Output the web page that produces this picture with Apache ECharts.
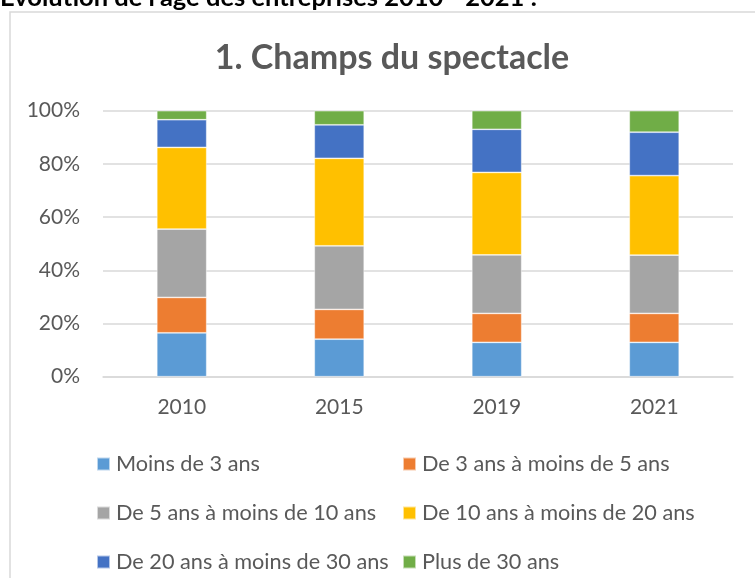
<!DOCTYPE html>
<html>
<head>
<meta charset="utf-8">
<script src="https://cdn.jsdelivr.net/npm/echarts@6/dist/echarts.min.js"></script>
<style>
html,body{margin:0;padding:0;background:#fff;}
#chart{width:755px;height:578px;}
</style>
</head>
<body>
<div id="chart"></div>
<script>
const categories = ['2010', '2015', '2019', '2021'];
const seriesNames = ['Moins de 3 ans', 'De 3 ans à moins de 5 ans', 'De 5 ans à moins de 10 ans', 'De 10 ans à moins de 20 ans', 'De 20 ans à moins de 30 ans', 'Plus de 30 ans'];
const moins3 = [16.5, 14.1, 12.9, 12.9];
const de3a5 = [13.3, 11.2, 10.9, 10.9];
const de5a10 = [25.7, 23.9, 22.0, 21.9];
const de10a20 = [30.7, 32.9, 31.0, 29.9];
const de20a30 = [10.4, 12.6, 16.2, 16.3];
const plus30 = [3.4, 5.3, 7.0, 8.1];
const yTicks = ['0%', '20%', '40%', '60%', '80%', '100%'];
const colors = ['#5B9BD5', '#ED7D31', '#A5A5A5', '#FFC000', '#4472C4', '#70AD47'];
const values = [moins3, de3a5, de5a10, de10a20, de20a30, plus30];

const FONT = 'Lato';
const TXT = '#595959';

const legendPos = [
  [96, 452], [402, 452],
  [96, 501], [402, 501],
  [96, 550], [402, 550]
];

const chart = echarts.init(document.getElementById('chart'), null, {renderer: 'canvas'});
chart.setOption({
  animation: false,
  color: colors,
  title: {
    text: '1. Champs du spectacle',
    left: 387, textAlign: 'center',
    top: 36,
    textStyle: {fontFamily: FONT, fontWeight: 'bold', fontSize: 34, color: TXT}
  },
  graphic: [
    {type: 'rect', shape: {x: 10, y: 12, width: 760, height: 580},
     style: {fill: 'none', stroke: '#D9D9D9', lineWidth: 1.5}, silent: true},
    {type: 'text', left: 0, top: -15,
     style: {text: "Evolution de l'âge des entreprises 2010 - 2021 :", fontFamily: FONT, fontWeight: 'bold', fontSize: 25.5, fill: '#000'}}
  ],
  legend: seriesNames.map((n, i) => ({
    data: [n],
    left: legendPos[i][0], top: legendPos[i][1],
    padding: 0, itemWidth: 13, itemHeight: 13, itemGap: 0,
    icon: 'rect',
    selectedMode: false,
    textStyle: {fontFamily: FONT, fontSize: 21.7, color: TXT, lineHeight: 24, padding: [0, 0, 0, 1]}
  })),
  grid: {left: 103, right: 22, top: 110.7, bottom: 201.3, containLabel: false},
  xAxis: {
    type: 'category', data: categories,
    axisLine: {show: true, lineStyle: {color: '#D9D9D9', width: 1.5}},
    axisTick: {show: false},
    axisLabel: {fontFamily: FONT, fontSize: 21, color: TXT, margin: 20}
  },
  yAxis: {
    type: 'value', min: 0, max: 100, interval: 20,
    axisLine: {show: false}, axisTick: {show: false},
    splitLine: {lineStyle: {color: '#D9D9D9', width: 1.5}},
    axisLabel: {fontFamily: FONT, fontSize: 21, color: TXT, margin: 23,
      formatter: v => yTicks[Math.round(v / 20)]}
  },
  series: seriesNames.map((n, i) => ({
    name: n, type: 'bar', stack: 'total',
    barWidth: '31.7%',
    data: values[i],
    itemStyle: {color: colors[i], borderColor: 'rgba(255,255,255,0.6)', borderWidth: 0.75}
  }))
});
</script>
</body>
</html>
